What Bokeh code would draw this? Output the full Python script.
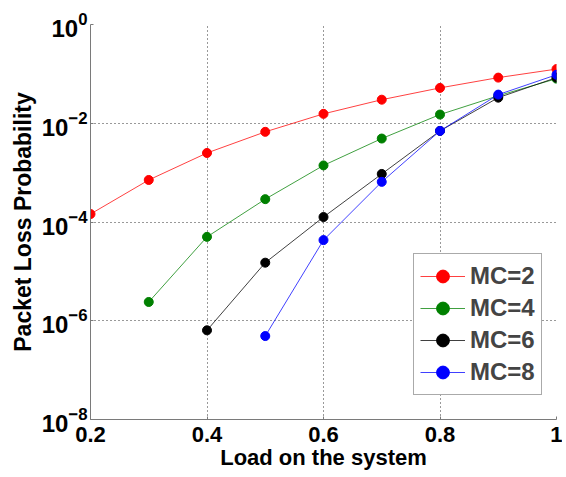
from bokeh.plotting import figure
from bokeh.models import FixedTicker, LogTickFormatter, Range1d, Legend, LegendItem
from bokeh.embed import file_html
from bokeh.resources import INLINE

# ---- data ----
load_mc2 = [0.2, 0.3, 0.4, 0.5, 0.6, 0.7, 0.8, 0.9, 1.0]
plp_mc2 = [1.45e-4, 7.1e-4, 2.5e-3, 6.7e-3, 1.55e-2, 3.0e-2, 5.2e-2, 8.4e-2, 1.25e-1]

load_mc4 = [0.3, 0.4, 0.5, 0.6, 0.7, 0.8, 0.9, 1.0]
plp_mc4 = [2.4e-6, 5.0e-5, 2.9e-4, 1.4e-3, 4.9e-3, 1.5e-2, 3.6e-2, 8.0e-2]

load_mc6 = [0.4, 0.5, 0.6, 0.7, 0.8, 0.9, 1.0]
plp_mc6 = [6.4e-7, 1.5e-5, 1.26e-4, 9.4e-4, 7.0e-3, 3.3e-2, 8.4e-2]

load_mc8 = [0.5, 0.6, 0.7, 0.8, 0.9, 1.0]
plp_mc8 = [4.9e-7, 4.3e-5, 6.5e-4, 7.0e-3, 3.8e-2, 9.6e-2]

series_names = ["MC=2", "MC=4", "MC=6", "MC=8"]
x_ticks = [0.2, 0.4, 0.6, 0.8, 1.0]
y_ticks = [1e-8, 1e-6, 1e-4, 1e-2, 1.0]

x_label = "Load on the system"
y_label = "Packet Loss Probability"

FONT = "Liberation Sans"

p = figure(width=562, height=474, y_axis_type="log",
           x_range=Range1d(0.2, 1.0), y_range=Range1d(1e-8, 1.0),
           output_backend="svg", toolbar_location=None,
           min_border_left=90, min_border_right=6, min_border_top=24,
           min_border_bottom=55)
p.outline_line_color = None
p.background_fill_color = "white"

series = [
    (load_mc2, plp_mc2, "#ff0000"),
    (load_mc4, plp_mc4, "#008000"),
    (load_mc6, plp_mc6, "#000000"),
    (load_mc8, plp_mc8, "#0000ff"),
]

items = []
for (xs, ys, col), name in zip(series, series_names):
    r1 = p.line(xs, ys, line_color=col, line_width=1, line_alpha=0.75)
    r2 = p.scatter(xs, ys, marker="circle", size=9, fill_color=col, line_color=col)
    items.append(LegendItem(label=name, renderers=[r1, r2]))

# axes
for ax in (p.xaxis[0], p.yaxis[0]):
    ax.axis_line_color = "#7a7a7a"
    ax.axis_line_width = 1
    ax.major_tick_line_color = "#7a7a7a"
    ax.major_tick_in = 3
    ax.major_tick_out = 0
    ax.minor_tick_line_color = None
    ax.major_label_text_font = FONT
    ax.major_label_text_font_style = "bold"
    ax.major_label_text_color = "black"
    ax.axis_label_text_font = FONT
    ax.axis_label_text_font_style = "bold"
    ax.axis_label_text_color = "black"

p.xaxis[0].ticker = FixedTicker(ticks=x_ticks)
p.xaxis[0].major_label_text_font_size = "22px"
p.xaxis[0].major_label_standoff = 7
p.xaxis[0].axis_label = x_label
p.xaxis[0].axis_label_standoff = 0
p.xaxis[0].axis_label_text_font_size = "22px"

p.yaxis[0].ticker = FixedTicker(ticks=y_ticks)
p.yaxis[0].formatter = LogTickFormatter()
p.yaxis[0].major_label_text_font_size = "24px"
p.yaxis[0].major_label_standoff = 3
p.yaxis[0].axis_label = y_label
p.yaxis[0].axis_label_standoff = 3
p.yaxis[0].axis_label_text_font_size = "23px"

# grids
p.xgrid[0].ticker = FixedTicker(ticks=x_ticks)
p.ygrid[0].ticker = FixedTicker(ticks=y_ticks)
for g in (p.xgrid[0], p.ygrid[0]):
    g.grid_line_color = "#333333"
    g.grid_line_dash = "1 3"
    g.grid_line_width = 1

legend = Legend(items=items, location=(323, 24))
legend.label_text_font = FONT
legend.label_text_font_style = "bold"
legend.label_text_font_size = "24px"
legend.label_height = 32
legend.glyph_height = 32
legend.glyph_width = 45
legend.label_standoff = 5
legend.spacing = 0
legend.padding = 6
legend.margin = 0
legend.border_line_color = "#555555"
legend.border_line_width = 1
legend.background_fill_color = "white"
legend.background_fill_alpha = 1
p.add_layout(legend)

open("out.html", "w").write(file_html(p, INLINE))
